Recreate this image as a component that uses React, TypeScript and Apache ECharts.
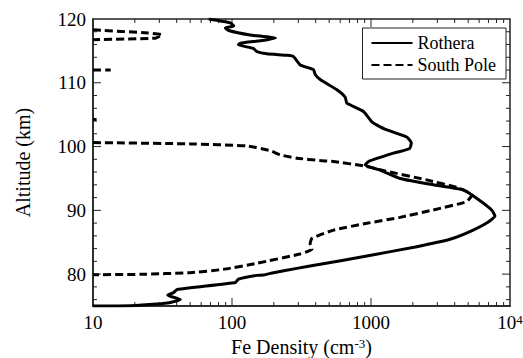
import React, { useEffect, useRef } from "react";
import * as echarts from "echarts";

// Rothera: [Fe density (cm^-3), altitude (km)]
const rotheraDensity = [68, 97, 103, 89.5, 94.6, 135, 205, 160, 115, 111, 142, 151, 178, 250, 277, 310, 386, 397, 431, 568, 652, 670, 882, 1013, 1097, 1300, 1807, 1950, 1900, 1449, 958, 907, 1162, 1618, 2806, 4610, 5750, 7380, 7790, 6790, 5150, 3700, 2134, 933, 431, 293, 199, 169, 151, 111, 106, 40.3, 38, 34.5, 42.5, 36, 28.9, 18.6, 10];
const rotheraAltitude = [120, 119.4, 118.9, 118.6, 118.2, 117.5, 117.0, 116.6, 116.2, 115.95, 115.4, 114.9, 114.55, 114.3, 114.1, 112.8, 112.05, 111.3, 110.5, 108.9, 107.75, 106.8, 105.5, 103.9, 103.4, 102.6, 101.5, 100.6, 99.7, 98.96, 97.65, 97.1, 96.3, 95.0, 94.0, 93.2, 91.9, 90.06, 89.1, 88.0, 86.66, 85.46, 84.3, 82.84, 81.54, 80.9, 80.22, 79.86, 79.8, 79.2, 78.7, 77.6, 77.1, 76.7, 76.0, 75.55, 75.3, 75.04, 75];

// South Pole segments (gaps between segments)
const spSeg1Density = [10, 25, 31.4, 28.1, 10];
const spSeg1Altitude = [118.3, 117.8, 117.5, 117.0, 116.75];
const spSeg2Density = [10, 13.4];
const spSeg2Altitude = [112.0, 112.0];
const spSeg3Density = [10, 10.6];
const spSeg3Altitude = [104.3, 104.2];
const spSeg4Density = [10, 50, 128, 188, 222, 293, 431, 537, 882, 1228, 2515, 4134, 4880, 5300, 4880, 2806, 1618, 933, 537, 376, 365, 376, 309, 151, 87, 50, 22, 10];
const spSeg4Altitude = [100.63, 100.42, 100.1, 99.37, 98.7, 98.18, 97.8, 97.65, 96.97, 96.24, 94.77, 93.6, 92.94, 92.4, 91.37, 90.06, 88.9, 87.97, 86.9, 85.6, 84.8, 83.9, 83.16, 81.7, 80.75, 80.22, 79.97, 79.9];

const xMajorTicks = [100, 1000];
const xMinorTicks = [20, 30, 40, 50, 60, 70, 80, 90, 200, 300, 400, 500, 600, 700, 800, 900, 2000, 3000, 4000, 5000, 6000, 7000, 8000, 9000];
const yMajorTicks = [80, 90, 100, 110];
const yMinorTicks = [76, 78, 82, 84, 86, 88, 92, 94, 96, 98, 102, 104, 106, 108, 112, 114, 116, 118];

const FONT = "Liberation Serif";
const AXIS_COLOR = "#222";

function zip(xs: number[], ys: number[]) {
  return xs.map((x, i) => [x, ys[i]]);
}

export default function App() {
  const ref = useRef<HTMLDivElement>(null);
  useEffect(() => {
    if (!ref.current) return;
    const chart = echarts.init(ref.current, null, { renderer: "svg" });
    const gap: any = ["-", "-"];
    const southPole = [
      ...zip(spSeg1Density, spSeg1Altitude), gap,
      ...zip(spSeg2Density, spSeg2Altitude), gap,
      ...zip(spSeg3Density, spSeg3Altitude), gap,
      ...zip(spSeg4Density, spSeg4Altitude),
    ];
    const X_MIN = 10, X_MAX = 10000, Y_MIN = 75, Y_MAX = 120;
    const tickStyle = { stroke: AXIS_COLOR, lineWidth: 1 };

    const xTickSeries = (ticks: number[], len: number) => ({
      type: "custom",
      silent: true,
      data: ticks.map((v) => [v, Y_MIN]),
      renderItem: (params: any, api: any) => {
        const v = api.value(0);
        const b = api.coord([v, Y_MIN]);
        const t = api.coord([v, Y_MAX]);
        return {
          type: "group",
          children: [
            { type: "line", shape: { x1: b[0], y1: b[1], x2: b[0], y2: b[1] - len }, style: tickStyle },
            { type: "line", shape: { x1: t[0], y1: t[1], x2: t[0], y2: t[1] + len }, style: tickStyle },
          ],
        };
      },
      z: 2,
    });
    const yTickSeries = (ticks: number[], len: number) => ({
      type: "custom",
      silent: true,
      data: ticks.map((v) => [X_MIN, v]),
      renderItem: (params: any, api: any) => {
        const v = api.value(1);
        const l = api.coord([X_MIN, v]);
        const r = api.coord([X_MAX, v]);
        return {
          type: "group",
          children: [
            { type: "line", shape: { x1: l[0], y1: l[1], x2: l[0] + len, y2: l[1] }, style: tickStyle },
            { type: "line", shape: { x1: r[0], y1: r[1], x2: r[0] - len, y2: r[1] }, style: tickStyle },
          ],
        };
      },
      z: 2,
    });

    chart.setOption({
      animation: false,
      grid: {
        left: 93, right: 13, top: 19, bottom: 52,
        containLabel: false,
        outerBoundsMode: "none",
        show: true, borderColor: AXIS_COLOR, borderWidth: 1.5, backgroundColor: "transparent",
      },
      legend: {
        data: ["Rothera", "South Pole"],
        orient: "vertical",
        right: 17,
        top: 28,
        itemWidth: 41,
        itemHeight: 14,
        itemGap: 4,
        padding: [6, 10, 5, 8],
        borderColor: "#222",
        borderWidth: 1,
        itemStyle: { opacity: 0 },
        textStyle: { fontFamily: FONT, fontSize: 18, color: "#000" },
      },
      xAxis: {
        type: "log",
        logBase: 10,
        min: X_MIN,
        max: X_MAX,
        name: "Fe Density (cm{sup|-3})",
        nameLocation: "middle",
        nameGap: 27,
        nameTextStyle: {
          fontFamily: FONT,
          fontSize: 20,
          color: "#000",
          rich: { sup: { fontFamily: FONT, fontSize: 13, verticalAlign: "top", color: "#000" } },
        },
        axisLine: { show: true, lineStyle: { color: AXIS_COLOR, width: 1.5 } },
        axisTick: { show: false },
        axisLabel: {
          fontFamily: FONT,
          fontSize: 19,
          color: "#000",
          margin: 7,
          formatter: (v: number) => (Math.abs(v - 10000) < 1 ? "10{sup|4}" : String(Math.round(v))),
          rich: { sup: { fontFamily: FONT, fontSize: 13, verticalAlign: "top", color: "#000" } },
        },
        splitLine: { show: false },
      },
      yAxis: {
        type: "value",
        min: Y_MIN,
        max: Y_MAX,
        name: "Altitude (km)",
        nameLocation: "middle",
        nameGap: 60,
        nameTextStyle: { fontFamily: FONT, fontSize: 20, color: "#000" },
        axisLine: { show: true, lineStyle: { color: AXIS_COLOR, width: 1.5 } },
        axisTick: { show: false },
        axisLabel: {
          fontFamily: FONT,
          fontSize: 19,
          color: "#000",
          margin: 7,
          formatter: (v: number) => (v % 10 === 0 ? String(v) : ""),
        },
        splitLine: { show: false },
      },
      series: [
        {
          name: "Rothera",
          type: "line",
          data: zip(rotheraDensity, rotheraAltitude),
          symbol: "none",
          smooth: 0.15,
          lineStyle: { color: "#000", width: 3, join: "round" },
          itemStyle: { color: "#000" },
          z: 3,
        },
        {
          name: "South Pole",
          type: "line",
          data: southPole,
          symbol: "none",
          smooth: 0.15,
          connectNulls: false,
          lineStyle: { color: "#000", width: 3, type: [8, 4], cap: "butt" },
          itemStyle: { color: "#000" },
          z: 3,
        },
        xTickSeries(xMajorTicks, 8),
        xTickSeries(xMinorTicks, 4),
        yTickSeries(yMajorTicks, 8),
        yTickSeries(yMinorTicks, 4),
      ],
    });
    return () => chart.dispose();
  }, []);
  return (
    <>
      <style>{`.fe-chart svg text, .fe-chart svg tspan { font-family: "Liberation Serif", "Times New Roman", serif !important; }`}</style>
      <div className="fe-chart" ref={ref} style={{ width: 523, height: 358, position: "absolute", left: 0, top: 0 }} />
    </>
  );
}
